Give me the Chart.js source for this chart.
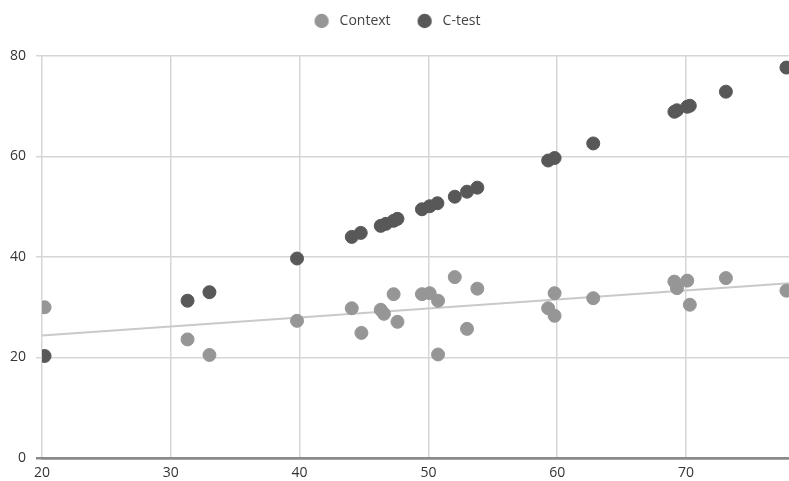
<!DOCTYPE html>
<html>
<head>
<meta charset="utf-8">
<script src="https://cdn.jsdelivr.net/npm/chart.js@4/dist/chart.umd.min.js"></script>
<style>
  html, body { margin: 0; padding: 0; background: #fff; }
  #wrap { width: 789px; height: 481px; position: relative; }
</style>
</head>
<body>
<div id="wrap"><canvas id="chart"></canvas></div>
<script>
// Context scores (x = C-test score)
const contextX = [20.2, 31.3, 33.0, 39.8, 44.05, 44.8, 46.3, 46.55, 47.3, 47.6, 49.5, 50.1, 50.75, 50.75, 52.05, 53.0, 53.8, 59.3, 59.8, 59.8, 62.8, 69.1, 69.3, 70.1, 70.3, 73.1, 77.8];
const contextY = [30.0, 23.6, 20.5, 27.3, 29.8, 24.9, 29.5, 28.7, 32.6, 27.1, 32.6, 32.8, 31.3, 20.6, 36.0, 25.7, 33.7, 29.8, 32.8, 28.3, 31.8, 35.1, 33.8, 35.3, 30.5, 35.8, 33.3];

// C-test scores
const ctestX = [20.2, 31.3, 33.0, 39.8, 44.05, 44.75, 46.3, 46.7, 47.3, 47.6, 49.5, 50.1, 50.7, 52.05, 53.0, 53.8, 59.3, 59.8, 62.8, 69.1, 69.3, 70.1, 70.3, 73.1, 77.8];
const ctestY = [20.3, 31.3, 33.0, 39.7, 44.0, 44.8, 46.2, 46.6, 47.2, 47.6, 49.5, 50.1, 50.7, 52.0, 53.0, 53.8, 59.2, 59.7, 62.6, 68.9, 69.2, 69.9, 70.1, 72.9, 77.7];

// trend line for Context, end points
const trendX = [20, 78];
const trendY = [24.4, 34.8];

const xTicks = [20, 30, 40, 50, 60, 70];
const yTicks = [0, 20, 40, 60, 80];

const contextColor = "#969696";
const ctestColor = "#585858";

const toPoints = (xs, ys) => xs.map((x, i) => ({x: x, y: ys[i]}));

// legend marker: circle drawn left of the box centre so the text gap is wider
function legendDot(color) {
  const c = document.createElement("canvas");
  c.width = 24; c.height = 16;
  const g = c.getContext("2d");
  g.fillStyle = color;
  g.beginPath();
  g.arc(8, 8, 7.2, 0, Math.PI * 2);
  g.fill();
  return c;
}

Chart.defaults.font.family = "'Open Sans', 'Noto Sans', sans-serif";
Chart.defaults.font.size = 14;
Chart.defaults.color = "#333";

// extra space under the legend, and nudge it a little to the right
const legendGap = {
  id: "legendGap",
  beforeInit(chart) {
    const legend = chart.legend;
    const fit = legend.fit;
    legend.fit = function () {
      fit.call(legend);
      this.height += 18;
    };
    const draw = legend.draw;
    legend.draw = function () {
      chart.ctx.save();
      chart.ctx.translate(5, 0);
      draw.apply(legend, arguments);
      chart.ctx.restore();
    };
  }
};

new Chart(document.getElementById("chart"), {
  type: "scatter",
  data: {
    datasets: [
      {label: "Context", data: toPoints(contextX, contextY), backgroundColor: contextColor, borderColor: contextColor, pointRadius: 6.5, pointHoverRadius: 6.5, order: 1},
      {label: "C-test", data: toPoints(ctestX, ctestY), backgroundColor: ctestColor, borderColor: ctestColor, pointRadius: 6.5, pointHoverRadius: 6.5, order: 2},
      {label: "trend", type: "line", data: toPoints(trendX, trendY), borderColor: "#c9c9c9", borderWidth: 2, pointRadius: 0, fill: false, order: 3}
    ]
  },
  options: {
    responsive: true,
    maintainAspectRatio: false,
    animation: false,
    layout: {autoPadding: false, padding: {left: 0, right: 0, top: -17, bottom: 0}},
    plugins: {
      legend: {
        position: "top",
        labels: {
          usePointStyle: true,
          boxWidth: 14,
          boxHeight: 14,
          padding: 31,
          color: "#444",
          generateLabels: chart => {
            const items = Chart.defaults.plugins.legend.labels.generateLabels(chart);
            return items.filter(it => it.text !== "trend").map(it => {
              it.pointStyle = legendDot(it.text === "Context" ? contextColor : ctestColor);
              return it;
            });
          }
        }
      },
      tooltip: {enabled: false}
    },
    scales: {
      x: {
        type: "linear",
        min: 20,
        max: 78,
        afterBuildTicks: axis => { axis.ticks = xTicks.map(v => ({value: v})); },
        afterFit: axis => { axis.height = 23; },
        ticks: {padding: 7, includeBounds: false},
        grid: {color: "#d6d6d6", lineWidth: 1.5, drawTicks: false},
        border: {display: true, color: "#8a8a8a", width: 2.5}
      },
      y: {
        min: 0,
        max: 80,
        afterBuildTicks: axis => { axis.ticks = yTicks.map(v => ({value: v})); },
        ticks: {padding: 10},
        grid: {
          color: ctx => ctx.tick && ctx.tick.value === 0 ? "#8a8a8a" : "#d6d6d6",
          lineWidth: ctx => ctx.tick && ctx.tick.value === 0 ? 2.5 : 1.5,
          tickLength: 6
        },
        border: {display: false}
      }
    }
  },
  plugins: [legendGap]
});
</script>
</body>
</html>
